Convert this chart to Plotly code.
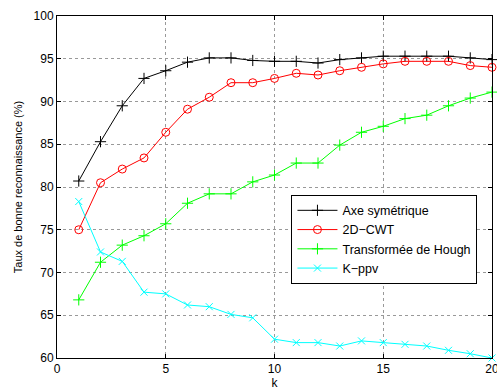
import plotly.graph_objects as go

k = list(range(1, 21))
axe_sym = [80.7, 85.3, 89.5, 92.7, 93.6, 94.6, 95.1, 95.1, 94.8, 94.7,
           94.7, 94.5, 94.9, 95.1, 95.3, 95.3, 95.3, 95.3, 95.1, 94.9]
cwt_2d = [75.0, 80.5, 82.1, 83.4, 86.4, 89.1, 90.5, 92.2, 92.2, 92.7,
          93.3, 93.1, 93.6, 94.0, 94.4, 94.7, 94.7, 94.7, 94.2, 94.0]
hough = [66.8, 71.2, 73.2, 74.3, 75.7, 78.1, 79.2, 79.2, 80.6, 81.4,
         82.8, 82.8, 84.9, 86.4, 87.1, 88.0, 88.4, 89.5, 90.4, 91.1]
k_ppv = [78.3, 72.4, 71.3, 67.7, 67.5, 66.2, 66.0, 65.1, 64.7, 62.2,
         61.8, 61.8, 61.4, 62.0, 61.8, 61.6, 61.4, 60.9, 60.5, 60.0]

series = [
    ("Axe symétrique", axe_sym, "black", "cross-thin-open", 8),
    ("2D\u2212CWT", cwt_2d, "red", "circle-open", 8),
    ("Transformée de Hough", hough, "#00ff00", "cross-thin-open", 8),
    ("K\u2212ppv", k_ppv, "cyan", "x-thin-open", 7),
]

fig = go.Figure()
for name, vals, col, sym, sz in series:
    fig.add_trace(go.Scatter(
        x=k, y=vals, name=name, mode="lines+markers", cliponaxis=False,
        line=dict(color=col, width=1),
        marker=dict(symbol=sym, size=sz, color=col, line=dict(color=col, width=1)),
    ))

FONT = "Liberation Sans, Arial"
axis_common = dict(
    showline=True, linecolor="black", linewidth=1, mirror="ticks",
    ticks="inside", ticklen=4, tickcolor="black",
    showgrid=True, gridcolor="#999999", griddash="dot", gridwidth=1,
    zeroline=False, automargin=False, ticklabeloverflow="allow",
    tickfont=dict(family=FONT, size=12, color="black"),
)

fig.update_xaxes(range=[0, 20], tickvals=[0, 5, 10, 15, 20],
                 title=dict(text="k", standoff=0, font=dict(family=FONT, size=12, color="black")),
                 **axis_common)
fig.update_yaxes(range=[60, 100], tickvals=[60, 65, 70, 75, 80, 85, 90, 95, 100],
                 title=dict(text="Taux de bonne reconnaissance (%)", standoff=8,
                            font=dict(family=FONT, size=11, color="black")),
                 **axis_common)

fig.update_layout(
    width=497, height=391,
    margin=dict(l=57, r=5, t=16, b=33),
    paper_bgcolor="white", plot_bgcolor="white",
    showlegend=True,
    legend=dict(x=0.539, y=0.4775, xanchor="left", yanchor="top",
                bgcolor="white", bordercolor="black", borderwidth=1,
                font=dict(family=FONT, size=12.5, color="black"),
                itemwidth=40, tracegroupgap=0),
)

fig.write_html("out.html", config={"displayModeBar": False},
               post_script="document.body.style.margin='0';document.body.style.overflow='hidden';")
